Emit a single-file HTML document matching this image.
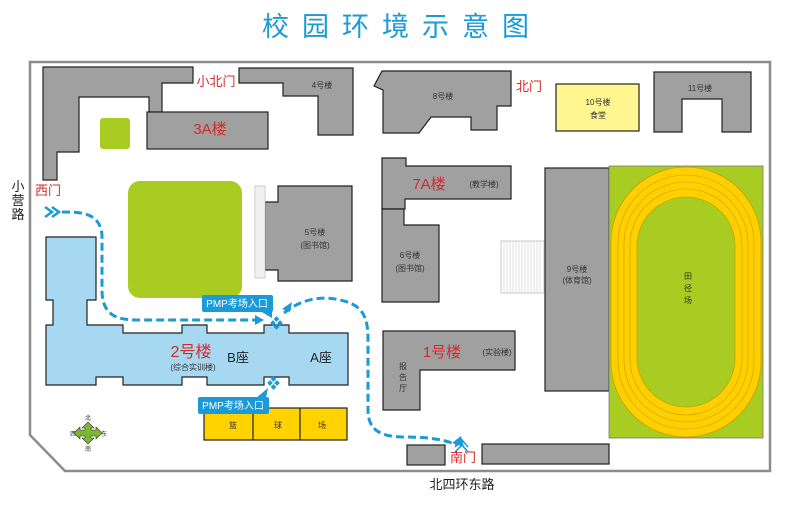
<!DOCTYPE html>
<html><head><meta charset="utf-8"><style>
html,body{margin:0;padding:0;background:#fff;}
svg{display:block;font-family:"Liberation Sans","Noto Sans CJK SC",sans-serif;}
</style></head><body>
<svg width="800" height="507" viewBox="0 0 800 507" xmlns="http://www.w3.org/2000/svg">
<text x="402" y="36" font-size="27" fill="#1a9ad6" text-anchor="middle" letter-spacing="13">校园环境示意图</text>
<polygon points="30,62 770,62 770,471 65,471 30,435" fill="#fff" stroke="#8c8c8c" stroke-width="2.5"/>
<g fill="#a0a0a0" stroke="#222" stroke-width="1.2">
<polygon points="43,67 193,67 193,83 162,83 162,112 149,112 149,97 79,97 79,152 57,152 57,180 43,180"/>
<rect x="147" y="112" width="121" height="37"/>
<polygon points="239,68 353,68 353,135 318,135 318,96 283,96 283,83 239,83"/>
<polygon points="278,186 352,186 352,281 278,281 278,270 265,270 265,202 278,202"/>
<polygon points="382,71 511,71 511,106 497,106 497,130 471,130 471,117 431,117 419,133 383,133 383,90 374,86"/>
<polygon points="654,72 751,72 751,132 722,132 722,99 682,99 682,132 654,132"/>
<polygon points="382,158 406,158 406,166 511,166 511,199 405,199 405,209 382,209"/>
<polygon points="382,209 404,209 404,225 439,225 439,302 382,302"/>
<rect x="545" y="168" width="64" height="223"/>
<polygon points="383,331 515,331 515,370 420,370 420,410 383,410"/>
<rect x="407" y="445" width="38" height="20"/>
<rect x="482" y="444" width="127" height="20"/>
</g>
<rect x="556" y="84" width="83" height="47" fill="#fff68f" stroke="#222" stroke-width="1.2"/>
<rect x="100" y="118" width="30" height="31" rx="3" fill="#a8cc22"/>
<rect x="128" y="181" width="114" height="117" rx="12" fill="#a8cc22"/>
<g stroke="#bbb" stroke-width="0.8">
<rect x="255" y="186" width="10" height="92" fill="#fff"/>
<rect x="501" y="241" width="43" height="52" fill="#fff"/>
</g>
<g stroke="#ccc" stroke-width="0.6">
<path d="M257 186V278M259 186V278M261 186V278M263 186V278"/>
<path d="M504 241V293M507 241V293M510 241V293M513 241V293M516 241V293M519 241V293M522 241V293M525 241V293M528 241V293M531 241V293M534 241V293M537 241V293M540 241V293"/>
</g>
<rect x="609" y="166" width="154" height="272" fill="#a8cc22" stroke="#777" stroke-width="0.8"/>
<rect x="611" y="167" width="150" height="270" rx="75" fill="#ffcf00" stroke="#c9a000" stroke-width="0.8"/>
<rect x="618" y="175" width="136" height="254" rx="68" fill="none" stroke="#c9a000" stroke-width="0.6"/>
<rect x="624" y="182" width="124" height="240" rx="62" fill="none" stroke="#c9a000" stroke-width="0.6"/>
<rect x="630" y="189" width="112" height="226" rx="56" fill="none" stroke="#c9a000" stroke-width="0.6"/>
<rect x="637" y="197" width="98" height="210" rx="49" fill="#a8cc22" stroke="#c9a000" stroke-width="0.8"/>
<path d="M46 237H96V300H87V325H123V333H182V325H207V333H264V325H289V333H348V385H289V377H264V385H207V377H182V385H123V377H96V385H46V325H53V300H46Z" fill="#a6d8f2" stroke="#222" stroke-width="1.2"/>
<rect x="204" y="408" width="143" height="32" fill="#ffd200" stroke="#222" stroke-width="1.2"/>
<path d="M253 408V440M300 408V440" stroke="#222" stroke-width="1.2"/>
<g fill="none" stroke="#1a9ad6" stroke-width="3" stroke-dasharray="8,4">
<path d="M62 212C80 212 100 212 102 235V290C102 318 120 320 140 320H255"/>
<path d="M284 313C300 300 320 295 340 300C365 305 368 320 368 340V410C368 430 380 437 405 437C430 437 445 440 458 445"/>
</g>
<path d="M255 315L264 320L255 325Z" fill="#1a9ad6"/>
<path d="M282 309L292 302L290 312Z" fill="#1a9ad6"/>
<path d="M452 443L461 436L464 447Z" fill="#1a9ad6"/>
<path d="M45 207L52 212L45 217M52 207L59 212L52 217" fill="none" stroke="#1a9ad6" stroke-width="2.5"/>
<path d="M455 447L462 440L468 447M455 452L462 445L468 452" fill="none" stroke="#1a9ad6" stroke-width="1.5"/>
<g fill="#1a9ad6">
<rect x="271" y="321" width="4" height="4" transform="rotate(45 273 323)"/><rect x="278" y="321" width="4" height="4" transform="rotate(45 280 323)"/><rect x="274.5" y="317" width="4" height="4" transform="rotate(45 276.5 319)"/><rect x="274.5" y="325" width="4" height="4" transform="rotate(45 276.5 327)"/>
<rect x="268" y="381" width="4" height="4" transform="rotate(45 270 383)"/><rect x="275" y="381" width="4" height="4" transform="rotate(45 277 383)"/><rect x="271.5" y="377" width="4" height="4" transform="rotate(45 273.5 379)"/><rect x="271.5" y="385" width="4" height="4" transform="rotate(45 273.5 387)"/>
<rect x="202" y="295" width="71" height="17" rx="2"/>
<path d="M260 311L272 311L272 318Z"/>
<rect x="198" y="397" width="71" height="17" rx="2"/>
<path d="M256 398L268 388L266 398Z"/>
</g>
<g fill="#fff" font-size="10" text-anchor="middle">
<text x="237" y="307">PMP考场入口</text>
<text x="233" y="409">PMP考场入口</text>
</g>
<g fill="#d42a2a" text-anchor="middle">
<text x="216" y="86" font-size="13">小北门</text>
<text x="210" y="134" font-size="15">3A楼</text>
<text x="48" y="195" font-size="13">西门</text>
<text x="529" y="91" font-size="13">北门</text>
<text x="429" y="189" font-size="15">7A楼</text>
<text x="191" y="357" font-size="16">2号楼</text>
<text x="442" y="357" font-size="15">1号楼</text>
<text x="463" y="462" font-size="13">南门</text>
</g>
<g fill="#222" text-anchor="middle">
<text x="238" y="362" font-size="13">B座</text>
<text x="321" y="362" font-size="13">A座</text>
<text x="462" y="489" font-size="13">北四环东路</text>
<text x="18" y="191" font-size="13">小</text>
<text x="18" y="205" font-size="13">营</text>
<text x="18" y="219" font-size="13">路</text>
</g>
<g fill="#333" font-size="8" text-anchor="middle">
<text x="322" y="88">4号楼</text>
<text x="443" y="99">8号楼</text>
<text x="598" y="105">10号楼</text>
<text x="598" y="118">食堂</text>
<text x="700" y="91">11号楼</text>
<text x="484" y="187">(教学楼)</text>
<text x="315" y="235">5号楼</text>
<text x="315" y="248">(图书馆)</text>
<text x="410" y="258">6号楼</text>
<text x="410" y="271">(图书馆)</text>
<text x="577" y="272">9号楼</text>
<text x="577" y="283">(体育馆)</text>
<text x="688" y="279">田</text>
<text x="688" y="291">径</text>
<text x="688" y="303">场</text>
<text x="497" y="355">(实验楼)</text>
<text x="403" y="369">报</text>
<text x="403" y="380">告</text>
<text x="403" y="391">厅</text>
<text x="193" y="370">(综合实训楼)</text>
<text x="233" y="428">篮</text>
<text x="278" y="428">球</text>
<text x="322" y="428">场</text>
<text x="88" y="420" font-size="6">北</text>
<text x="88" y="451" font-size="6">南</text>
<text x="73" y="436" font-size="6">西</text>
<text x="104" y="436" font-size="6">东</text>
</g>
<path d="M88 422L94 428H91V430H96V427L102 433L96 439V436H91V438L94 438L88 444L82 438H85V436H80V439L74 433L80 427V430H85V428H82Z" fill="#7cb82f" stroke="#333" stroke-width="0.6"/>
</svg>
</body></html>
